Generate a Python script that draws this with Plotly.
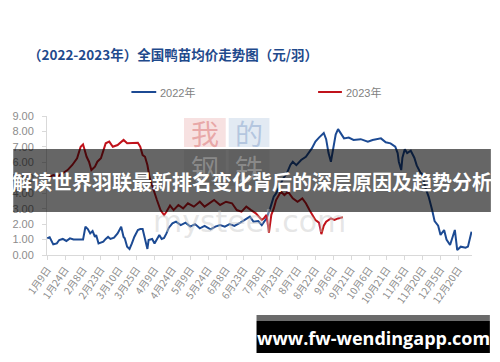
import plotly.graph_objects as go

# ---------------- data ----------------
tick_labels = ["1月9日", "1月24日", "2月8日", "2月23日", "3月10日", "3月25日", "4月9日", "4月24日",
               "5月9日", "5月24日", "6月8日", "6月23日", "7月8日", "7月23日", "8月7日", "8月22日",
               "9月6日", "9月21日", "10月6日", "10月21日", "11月5日", "11月20日", "12月5日", "12月20日"]
tick_days = [15 * i for i in range(len(tick_labels))]  # days since 1月9日

days_2022 = [0, 2, 5, 8, 10, 13, 16, 19, 22, 30,
             32, 34, 36, 38, 40, 41, 43, 47, 49, 51,
             53, 56, 59, 61, 62, 64, 65, 67, 69, 71,
             73, 76, 78, 80, 82, 84, 85, 88, 90, 92,
             94, 96, 98, 100, 102, 105, 108, 112, 116, 120,
             124, 128, 132, 137, 141, 145, 149, 153, 157, 162,
             166, 170, 173, 177, 180, 184, 187, 190, 192, 195,
             198, 201, 204, 206, 209, 213, 217, 222, 225, 228,
             232, 234, 236, 238, 240, 242, 244, 247, 249, 253,
             257, 263, 269, 273, 277, 280, 284, 288, 292, 294,
             295, 297, 298, 300, 302, 305, 308, 310, 313, 315,
             317, 320, 323, 325, 328, 330, 333, 335, 338, 340,
             342, 344, 347, 351, 353, 356]
price_2022 = [1.08, 1.15, 0.69, 0.75, 0.97, 1.04, 0.91, 1.08, 1.00, 1.00,
              1.83, 1.68, 1.40, 1.55, 1.17, 1.30, 0.75, 0.86, 1.04, 1.17,
              1.04, 1.12, 1.40, 1.73, 1.83, 1.17, 1.08, 0.54, 0.39, 0.75,
              1.17, 1.62, 1.68, 1.68, 0.97, 0.39, 0.97, 1.04, 0.75, 1.04,
              1.30, 1.04, 1.10, 1.40, 1.77, 2.05, 2.16, 1.94, 2.09, 1.84,
              2.00, 1.73, 1.88, 1.66, 1.84, 1.94, 1.84, 2.00, 1.88, 2.09,
              2.31, 2.48, 2.16, 2.20, 1.94, 2.37, 3.02, 3.77, 3.99, 4.53,
              4.96, 5.29, 5.83, 6.04, 5.82, 6.15, 6.36, 6.90, 7.34, 7.60,
              7.90, 7.50, 6.60, 6.04, 6.90, 7.80, 8.15, 7.77, 7.55, 7.60,
              7.45, 7.50, 7.34, 7.45, 7.50, 7.55, 7.30, 7.23, 7.01, 6.60,
              6.04, 5.50, 6.30, 6.85, 6.60, 6.75, 6.30, 5.80, 5.35, 5.20,
              4.42, 3.78, 2.90, 2.20, 1.90, 1.30, 1.62, 1.00, 0.65, 1.20,
              1.62, 0.32, 0.54, 0.47, 0.54, 1.51]

days_2023 = [1, 5, 9, 13, 17, 21, 25, 28, 30, 31,
             33, 35, 37, 40, 42, 45, 47, 49, 52, 55,
             59, 62, 64, 67, 73, 76, 78, 80, 82, 84,
             86, 89, 92, 95, 98, 100, 103, 106, 110, 114,
             118, 123, 128, 132, 136, 140, 145, 150, 155, 159,
             163, 167, 171, 175, 180, 182, 184, 186, 188, 190,
             192, 194, 196, 199, 202, 206, 210, 214, 217, 220,
             223, 225, 228, 230, 232, 234, 238, 241, 244, 248]
price_2023 = [5.00, 5.18, 5.10, 5.29, 5.50, 5.83, 6.26, 7.01, 7.16, 6.90,
              6.36, 6.04, 5.50, 5.72, 6.04, 6.26, 6.80, 7.23, 7.34, 7.01,
              7.12, 7.34, 7.45, 7.23, 7.23, 7.27, 7.01, 6.47, 6.36, 5.83,
              4.96, 4.20, 3.56, 2.91, 2.59, 2.80, 3.20, 2.91, 3.24, 3.02,
              3.35, 3.13, 3.45, 3.13, 3.35, 3.56, 3.24, 3.45, 3.35, 2.91,
              2.81, 3.13, 2.91, 2.70, 2.27, 2.40, 2.60, 1.45, 2.60, 3.00,
              3.56, 3.88, 4.10, 3.88, 4.10, 3.67, 3.45, 3.67, 3.35, 2.91,
              2.48, 2.27, 2.10, 1.35, 1.90, 2.16, 2.37, 2.27, 2.37, 2.44]

series_names = ["2022年", "2023年"]
series_colors = ["#1c4a93", "#c0121b"]
title_text = "（2022-2023年）全国鸭苗均价走势图（元/羽）"
banner_text = "解读世界羽联最新排名变化背后的深层原因及趋势分析"
site_text = "www.fw-wendingapp.com"

# ---------------- layout geometry ----------------
W, H = 500, 362
L, R, T, B = 44, 28, 116, 107
PW, PH = W - L - R, H - T - B


def px(xp):
    return (xp - L) / PW


def py(yp):
    return (H - B - yp) / PH


fig = go.Figure()
fig.add_trace(go.Scatter(x=days_2022, y=price_2022, mode="lines", name=series_names[0],
                         line=dict(color=series_colors[0], width=2), showlegend=False))
fig.add_trace(go.Scatter(x=days_2023, y=price_2023, mode="lines", name=series_names[1],
                         line=dict(color=series_colors[1], width=2), showlegend=False))

shapes = []
annots = []

# watermark (below traces)
shapes.append(dict(type="rect", xref="paper", yref="paper", layer="below",
                   x0=px(182), x1=px(224), y0=py(147), y1=py(118),
                   fillcolor="#f7e1e1", line=dict(width=0)))
shapes.append(dict(type="rect", xref="paper", yref="paper", layer="below",
                   x0=px(227), x1=px(268), y0=py(147), y1=py(118),
                   fillcolor="#e2eaf3", line=dict(width=0)))
shapes.append(dict(type="rect", xref="paper", yref="paper", layer="below",
                   x0=px(182), x1=px(224), y0=py(186), y1=py(150),
                   fillcolor="#efefef", line=dict(width=0)))
shapes.append(dict(type="rect", xref="paper", yref="paper", layer="below",
                   x0=px(227), x1=px(268), y0=py(186), y1=py(150),
                   fillcolor="#efefef", line=dict(width=0)))
for ch, cx, cy, col in [("我", 203, 133, "rgba(222,130,130,0.6)"),
                        ("的", 247.5, 133, "rgba(150,175,210,0.6)"),
                        ("钢", 203, 168, "rgba(190,190,190,0.45)"),
                        ("铁", 247.5, 168, "rgba(190,190,190,0.45)")]:
    annots.append(dict(text=ch, x=px(cx), y=py(cy), xref="paper", yref="paper",
                       showarrow=False, xanchor="center", yanchor="middle",
                       font=dict(family="Noto Sans CJK SC", size=28, color=col)))
annots.append(dict(text="mysteel.com", x=px(248), y=py(221), xref="paper", yref="paper",
                   showarrow=False, xanchor="center", yanchor="middle",
                   font=dict(family="DejaVu Sans", size=30, color="rgba(200,200,200,0.45)")))

# legend (custom)
shapes.append(dict(type="line", xref="paper", yref="paper", x0=px(129), x1=px(154),
                   y0=py(92), y1=py(92), line=dict(color=series_colors[0], width=2)))
shapes.append(dict(type="line", xref="paper", yref="paper", x0=px(317), x1=px(341),
                   y0=py(92), y1=py(92), line=dict(color=series_colors[1], width=2)))
annots.append(dict(text=series_names[0], x=px(156), y=py(92), xref="paper", yref="paper",
                   showarrow=False, xanchor="left", yanchor="middle",
                   font=dict(family="Liberation Sans, Noto Sans CJK SC", size=11, color="#7f7f7f")))
annots.append(dict(text=series_names[1], x=px(343), y=py(92), xref="paper", yref="paper",
                   showarrow=False, xanchor="left", yanchor="middle",
                   font=dict(family="Liberation Sans, Noto Sans CJK SC", size=11, color="#7f7f7f")))

# overlay banner
shapes.append(dict(type="rect", xref="paper", yref="paper", layer="above",
                   x0=px(10), x1=px(491), y0=py(212), y1=py(149),
                   fillcolor="rgba(0,0,0,0.6)", line=dict(width=0)))
annots.append(dict(text="<b>" + banner_text + "</b>", x=px(250.5), y=py(181), xref="paper", yref="paper",
                   showarrow=False, xanchor="center", yanchor="middle",
                   font=dict(family="Noto Sans CJK SC", size=20, color="white")))

# site box
shapes.append(dict(type="rect", xref="paper", yref="paper", layer="above",
                   x0=px(255), x1=px(490), y0=py(321), y1=py(315),
                   fillcolor="#6b6b6b", line=dict(width=0)))
shapes.append(dict(type="rect", xref="paper", yref="paper", layer="above",
                   x0=px(255), x1=px(490), y0=py(353), y1=py(321),
                   fillcolor="#000000", line=dict(width=0)))
annots.append(dict(text="<b>" + site_text + "</b>", x=px(372.5), y=py(337.5), xref="paper", yref="paper",
                   showarrow=False, xanchor="center", yanchor="middle",
                   font=dict(family="Open Sans", size=18, color="white")))

fig.update_layout(
    width=W, height=H,
    margin=dict(l=L, r=R, t=T, b=B, pad=0),
    paper_bgcolor="white", plot_bgcolor="rgba(0,0,0,0)",
    showlegend=False,
    title=dict(text="<b>" + title_text + "</b>", x=28 / W, xanchor="left",
               y=1 - 55 / H, yanchor="middle", yref="container",
               font=dict(family="Noto Sans CJK SC", size=13.5, color="#1f4a8c")),
    shapes=shapes, annotations=annots,
)
fig.update_xaxes(range=[-0.25, 356.4], tickmode="array", tickvals=tick_days, ticktext=tick_labels,
                 tickangle=-55, showgrid=False, zeroline=False, showline=True,
                 linecolor="#d9d9d9", linewidth=1, ticks="outside", ticklen=4, tickcolor="#d9d9d9",
                 tickfont=dict(family="Noto Sans CJK SC", size=10, color="#8c8c8c"))
fig.update_yaxes(range=[0, 9], tickmode="array", tickvals=list(range(10)),
                 ticktext=[f"{v:.2f}" for v in range(10)],
                 showgrid=False, zeroline=False, showline=True,
                 linecolor="#d9d9d9", linewidth=1, ticks="outside", ticklen=4, tickcolor="#d9d9d9",
                 ticklabelstandoff=6,
                 tickfont=dict(family="Liberation Sans", size=11, color="#8c8c8c"))

fig.write_html("out.html")
